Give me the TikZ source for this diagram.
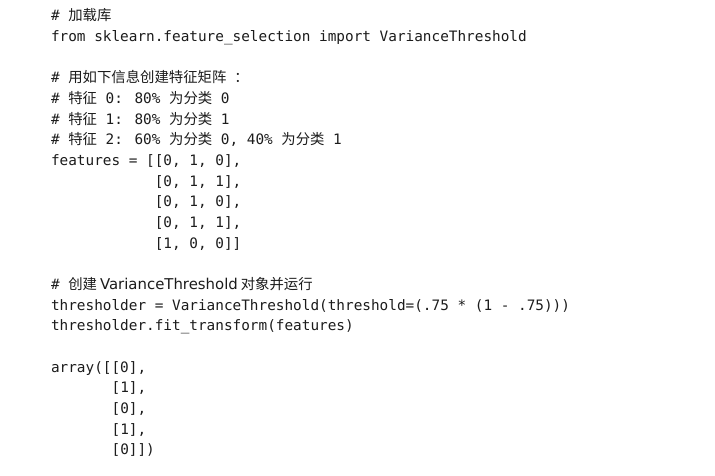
\documentclass[tikz,border=0pt]{standalone}
\usepackage{fontspec}
\setmainfont{DejaVu Sans}
\newfontfamily\monof{DejaVu Sans Mono}
\newfontfamily\cjkf{Noto Sans CJK SC}
\newfontfamily\propf{DejaVu Sans}
\definecolor{ink}{HTML}{1C1C1C}
\newcommand{\cj}[1]{{\cjkf #1}}
\begin{document}
\begin{tikzpicture}[x=1pt,y=-1pt,
  codeline/.style={anchor=base west, inner sep=0pt, outer sep=0pt, text=ink,
    font=\monof\fontsize{14.37}{20}\selectfont}]
\useasboundingbox[fill=white] (0,0) rectangle (715,476);
\node[codeline] (l0)  at (51,20.8)  {\#\ \cj{加载库}};
\node[codeline] (l1)  at (51,41.5)  {from sklearn.feature\_selection import VarianceThreshold};
\node[codeline] (l3)  at (51,82.8)  {\#\ \cj{用如下信息创建特征矩阵}\hspace{8pt}\cj{：}};
\node[codeline] (l4)  at (51,103.5) {\#\ \cj{特征} 0: 80\% \cj{为分类} 0};
\node[codeline] (l5)  at (51,124.2) {\#\ \cj{特征} 1: 80\% \cj{为分类} 1};
\node[codeline] (l6)  at (51,144.9) {\#\ \cj{特征} 2: 60\% \cj{为分类} 0, 40\% \cj{为分类} 1};
\node[codeline] (l7)  at (51,165.5) {features = [[0, 1, 0],};
\node[codeline] (l8)  at (154.8,186.2) {[0, 1, 1],};
\node[codeline] (l9)  at (154.8,206.9) {[0, 1, 0],};
\node[codeline] (l10) at (154.8,227.5) {[0, 1, 1],};
\node[codeline] (l11) at (154.8,248.2) {[1, 0, 0]]};
\node[codeline] (l13) at (51,289.5) {\#\ \cj{创建}\hspace{3pt}{\propf\fontsize{14.9}{20}\selectfont VarianceThreshold}\hspace{3pt}\cj{对象并运行}};
\node[codeline] (l14) at (51,310.2) {thresholder = VarianceThreshold(threshold=(.75 * (1 - .75)))};
\node[codeline] (l15) at (51,330.9) {thresholder.fit\_transform(features)};
\node[codeline] (l17) at (51,372.2) {array([[0],};
\node[codeline] (l18) at (111.6,392.9) {[1],};
\node[codeline] (l19) at (111.6,413.6) {[0],};
\node[codeline] (l20) at (111.6,434.2) {[1],};
\node[codeline] (l21) at (111.6,454.9) {[0]])};
\end{tikzpicture}
\end{document}
